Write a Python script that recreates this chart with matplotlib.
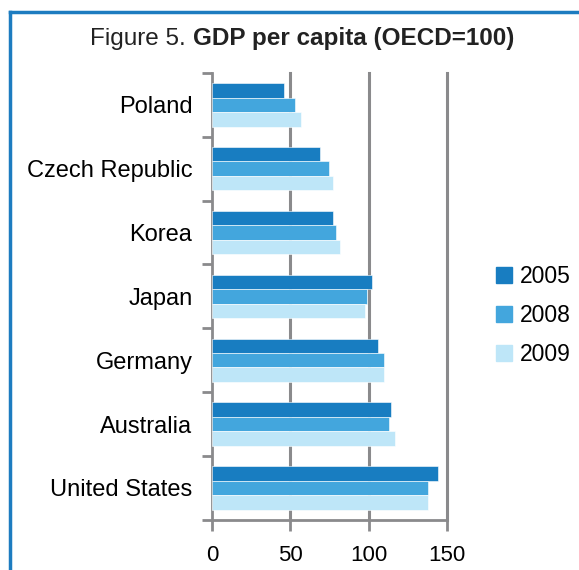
import numpy as np
import matplotlib.pyplot as plt
from matplotlib.lines import Line2D

plt.rcParams['font.family'] = ['Liberation Sans', 'DejaVu Sans']

# data (OECD = 100)
countries = ['Poland', 'Czech Republic', 'Korea', 'Japan', 'Germany', 'Australia', 'United States']
years = ['2005', '2008', '2009']
gdp_2005 = [46, 69, 77, 102, 106, 114, 144]
gdp_2008 = [53, 75, 79, 99, 109.5, 113, 138]
gdp_2009 = [57, 77, 82, 98, 109.5, 117, 138]
colors = ['#187dc1', '#43a6dd', '#bee6f8']

grey = '#8a8a8c'

fig = plt.figure(figsize=(5.79, 5.70), dpi=100)
ax = fig.add_axes([0.366, 0.088, 0.406, 0.784])

n = len(countries)
pos = np.arange(n)[::-1]  # Poland at the top
h = 0.227
series = [gdp_2005, gdp_2008, gdp_2009]
for i in range(3):
    ax.barh(pos + (1 - i) * h, series[i], height=h, color=colors[i],
            edgecolor='white', linewidth=0.4, label=years[i], zorder=3)

ax.set_xlim(0, 150)
ax.set_ylim(-0.5, n - 0.5)

# category labels centred, ticks at boundaries
ax.set_yticks(pos)
ax.set_yticklabels(countries, fontsize=17)
ax.tick_params(axis='y', which='major', length=0, pad=14)
ax.set_yticks(np.arange(-0.5, n, 1), minor=True)
ax.tick_params(axis='y', which='minor', length=7, width=2, color=grey, direction='out')

ax.set_xticks([0, 50, 100, 150])
ax.tick_params(axis='x', length=8, width=2, color=grey, direction='out', labelsize=16, pad=10)

for x in [50, 100, 150]:
    ax.axvline(x, color=grey, linewidth=2.2, zorder=2, clip_on=False)

for s in ['top', 'right']:
    ax.spines[s].set_visible(False)
for s in ['left', 'bottom']:
    ax.spines[s].set_color(grey)
    ax.spines[s].set_linewidth(2)

handles = [plt.Line2D([], [], marker='s', linestyle='none', markersize=11,
                      markerfacecolor=c, markeredgecolor=c) for c in colors]
fig.legend(handles, years, loc='center left', bbox_to_anchor=(0.815, 0.447),
           frameon=False, fontsize=16.5, handletextpad=0.2, labelspacing=0.7,
           handlelength=1.0)

# title: normal part + bold part, centred together
t1 = fig.text(0.0, 0.932, 'Figure 5. ', ha='left', va='center', fontsize=17.5, color='#222222')
t2 = fig.text(0.0, 0.932, 'GDP per capita (OECD=100)', ha='left', va='center',
              fontsize=17.5, fontweight='bold', color='#222222')
fig.canvas.draw()
r = fig.canvas.get_renderer()
w1 = t1.get_window_extent(r).width / fig.bbox.width
w2 = t2.get_window_extent(r).width / fig.bbox.width
x0 = 0.522 - (w1 + w2) / 2
t1.set_x(x0)
t2.set_x(x0 + w1)

# blue frame (top and left edges)
frame = '#1d7cc0'
fig.add_artist(Line2D([0.018, 1.0], [0.979, 0.979], color=frame, linewidth=2.5,
                      transform=fig.transFigure))
fig.add_artist(Line2D([0.018, 0.018], [0.0, 0.979], color=frame, linewidth=2.5,
                      transform=fig.transFigure))

fig.savefig('out.png', dpi=100)
